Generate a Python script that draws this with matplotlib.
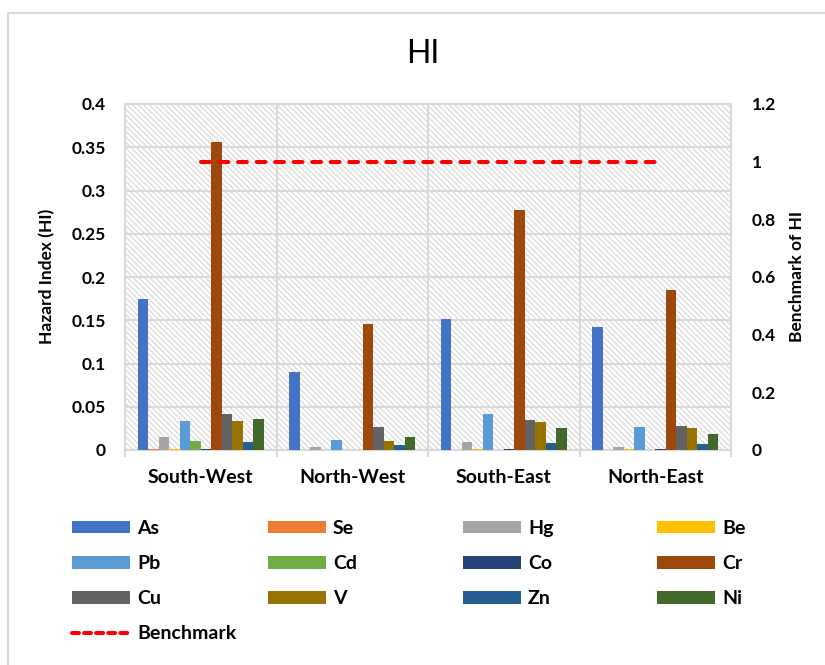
import matplotlib
matplotlib.use("Agg")
import matplotlib.pyplot as plt
import numpy as np
from matplotlib.patches import Rectangle, Patch
from matplotlib.lines import Line2D

plt.rcParams["font.family"] = ["Lato", "DejaVu Sans"]
plt.rcParams["hatch.linewidth"] = 0.9

# Regions (x categories)
regions = ["South-West", "North-West", "South-East", "North-East"]

# Hazard index per element and region
metals = ["As", "Se", "Hg", "Be", "Pb", "Cd", "Co", "Cr", "Cu", "V", "Zn", "Ni"]
hi_as = [0.175, 0.090, 0.152, 0.142]
hi_se = [0.0008, 0.0002, 0.0003, 0.0002]
hi_hg = [0.015, 0.004, 0.009, 0.003]
hi_be = [0.0006, 0.0001, 0.0008, 0.0006]
hi_pb = [0.034, 0.011, 0.042, 0.027]
hi_cd = [0.010, 0.0002, 0.0002, 0.0002]
hi_co = [0.0008, 0.0002, 0.0008, 0.0008]
hi_cr = [0.356, 0.146, 0.278, 0.185]
hi_cu = [0.042, 0.027, 0.035, 0.028]
hi_v = [0.033, 0.010, 0.032, 0.025]
hi_zn = [0.009, 0.006, 0.008, 0.007]
hi_ni = [0.036, 0.015, 0.026, 0.019]
series = [hi_as, hi_se, hi_hg, hi_be, hi_pb, hi_cd, hi_co, hi_cr, hi_cu, hi_v, hi_zn, hi_ni]

colors = ["#4472C4", "#ED7D31", "#A5A5A5", "#FFC000", "#5B9BD5", "#70AD47",
          "#264478", "#9E480E", "#636363", "#997300", "#255E91", "#43682B"]

# Benchmark of HI (right axis)
benchmark = [1, 1, 1, 1]

left_ticks = [0, 0.05, 0.1, 0.15, 0.2, 0.25, 0.3, 0.35, 0.4]
left_labels = ["0", "0.05", "0.1", "0.15", "0.2", "0.25", "0.3", "0.35", "0.4"]
right_ticks = [0, 0.2, 0.4, 0.6, 0.8, 1.0, 1.2]
right_labels = ["0", "0.2", "0.4", "0.6", "0.8", "1", "1.2"]

W, H = 825, 665
fig = plt.figure(figsize=(W / 100, H / 100), dpi=100)
fig.patch.set_facecolor("white")

grid_c = "#D9D9D9"

# chart outline
fig.add_artist(Rectangle((8 / W, -0.05), 1.1, 1 - 13 / H + 0.05, transform=fig.transFigure,
                         fill=False, edgecolor=grid_c, lw=1.5))

ax = fig.add_axes([125 / W, 1 - 450 / H, (731 - 125) / W, (450 - 104) / H])
ax.set_xlim(-0.5, 3.5)
ax.set_ylim(0, 0.4)

# hatched plot-area background
ax.add_patch(Rectangle((0, 0), 1, 1, transform=ax.transAxes, facecolor="white",
                       edgecolor="#DADADA", hatch="\\" * 6, lw=0, zorder=0))

x = np.arange(len(regions))
bw = 0.0693
for i, (name, vals, c) in enumerate(zip(metals, series, colors)):
    off = (i - 5.5) * bw
    ax.bar(x + off, vals, width=bw, color=c, lw=0, zorder=3, label=name)

ax.set_yticks(left_ticks)
ax.set_yticklabels(left_labels)
ax.set_xticks(x)
ax.set_xticklabels(regions)
ax.set_xticks(np.arange(-0.5, 4, 1), minor=True)
ax.tick_params(axis="x", which="major", length=0, pad=14, labelsize=14)
ax.tick_params(axis="x", which="minor", length=5, width=1.5, color=grid_c)
ax.tick_params(axis="y", length=0, pad=14, labelsize=12.5)
for lab in ax.get_xticklabels() + ax.get_yticklabels():
    lab.set_fontweight("bold")
ax.grid(axis="y", which="major", color=grid_c, lw=1.5, zorder=1)
ax.grid(axis="x", which="minor", color=grid_c, lw=1.5, zorder=1)
ax.set_axisbelow(True)
for s in ax.spines.values():
    s.set_color(grid_c)
    s.set_linewidth(1.5)

ax2 = ax.twinx()
ax2.set_ylim(0, 1.2)
ax2.set_yticks(right_ticks)
ax2.set_yticklabels(right_labels)
ax2.tick_params(axis="y", length=0, pad=15, labelsize=12.5)
for lab in ax2.get_yticklabels():
    lab.set_fontweight("bold")
for s in ax2.spines.values():
    s.set_visible(False)
ax2.plot(x, benchmark, color="#FF0000", lw=2.9, dashes=(2.2, 2.4),
         dash_capstyle="round", zorder=5, label="Benchmark")

fig.text(423 / W, 1 - 54 / H, "HI", ha="center", va="center", fontsize=23)
fig.text(47 / W, 1 - 276 / H, "Hazard Index (HI)", rotation=90, ha="center",
         va="center", fontsize=12.5, fontweight="bold")
fig.text(797 / W, 1 - 276 / H, "Benchmark of HI", rotation=90, ha="center",
         va="center", fontsize=12.5, fontweight="bold")

# legend laid out in four columns
columns = [["As", "Pb", "Cu", "Benchmark"], ["Se", "Cd", "V"], ["Hg", "Co", "Zn"],
           ["Be", "Cr", "Ni"]]
col_x = [72, 268, 463, 657]
for names, cx in zip(columns, col_x):
    hs = []
    for n in names:
        if n == "Benchmark":
            hs.append(Line2D([], [], color="#FF0000", lw=2.9, dashes=(1.7, 1.3),
                             dash_capstyle="round"))
        else:
            hs.append(Patch(facecolor=colors[metals.index(n)], lw=0))
    fig.legend(hs, names, loc="upper left", bbox_to_anchor=(cx / W, 1 - 520 / H),
               frameon=False, borderpad=0, borderaxespad=0, handlelength=2.98,
               handleheight=0.62, handletextpad=0.36, labelspacing=0.93,
               prop={"size": 14, "weight": "bold"})

fig.savefig("out.png", dpi=100, facecolor="white")
